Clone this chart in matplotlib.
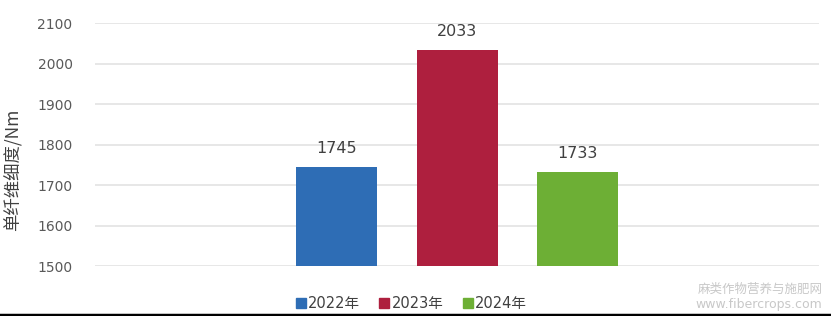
import matplotlib.pyplot as plt
from matplotlib.patches import Patch

plt.rcParams['font.family'] = ['DejaVu Sans', 'Noto Sans CJK SC']

years = ['2022年', '2023年', '2024年']
fineness = [1745, 2033, 1733]
colors = ['#2E6DB5', '#AE1F3E', '#6DAF35']
yticks = [1500, 1600, 1700, 1800, 1900, 2000, 2100]

fig = plt.figure(figsize=(8.31, 3.16), dpi=100)
ax = fig.add_axes([0.114, 0.158, 0.872, 0.769])

pos = [-1, 0, 1]
ax.bar(pos, [v - 1500 for v in fineness], bottom=1500, width=0.67,
       color=colors, zorder=3)
for x, v in zip(pos, fineness):
    ax.annotate(str(v), (x, v), xytext=(0, 8), textcoords='offset points',
                ha='center', va='bottom', fontsize=11.5, color='#404040')

ax.set_xlim(-3, 3)
ax.set_ylim(1500, 2100)
ax.set_yticks(yticks)
ax.set_xticks([])
ax.tick_params(axis='y', length=0, labelsize=10, labelcolor='#595959', pad=16)
ax.grid(axis='y', color='#E3E3E3', linewidth=1.2, zorder=0)
for sp in ax.spines.values():
    sp.set_visible(False)

# y axis title, placed a bit below the axes centre as in the original
fig.text(13 / 831, 1 - 170 / 316, '单纤维细度/Nm', rotation=90, ha='center',
         va='center', fontsize=12.5, color='#404040',
         family=['Noto Sans CJK SC', 'DejaVu Sans'])

handles = [Patch(color=c, label=y) for c, y in zip(colors, years)]
fig.legend(handles=handles, loc='center', bbox_to_anchor=(0.495, 0.04), ncol=3,
           frameon=False, fontsize=10.5, handlelength=0.7, handleheight=0.7,
           handletextpad=0.15, columnspacing=1.3, labelcolor='#404040')

fig.text(0.99, 0.085, '麻类作物营养与施肥网', ha='right', va='center',
         fontsize=9, color='#C8C8C8', family=['Noto Sans CJK SC'])
fig.text(0.99, 0.035, 'www.fibercrops.com', ha='right', va='center',
         fontsize=9, color='#C8C8C8')

fig.add_artist(plt.Line2D([0, 1], [0.004, 0.004], color='black', linewidth=2.5))

fig.savefig('out.png', dpi=100)
